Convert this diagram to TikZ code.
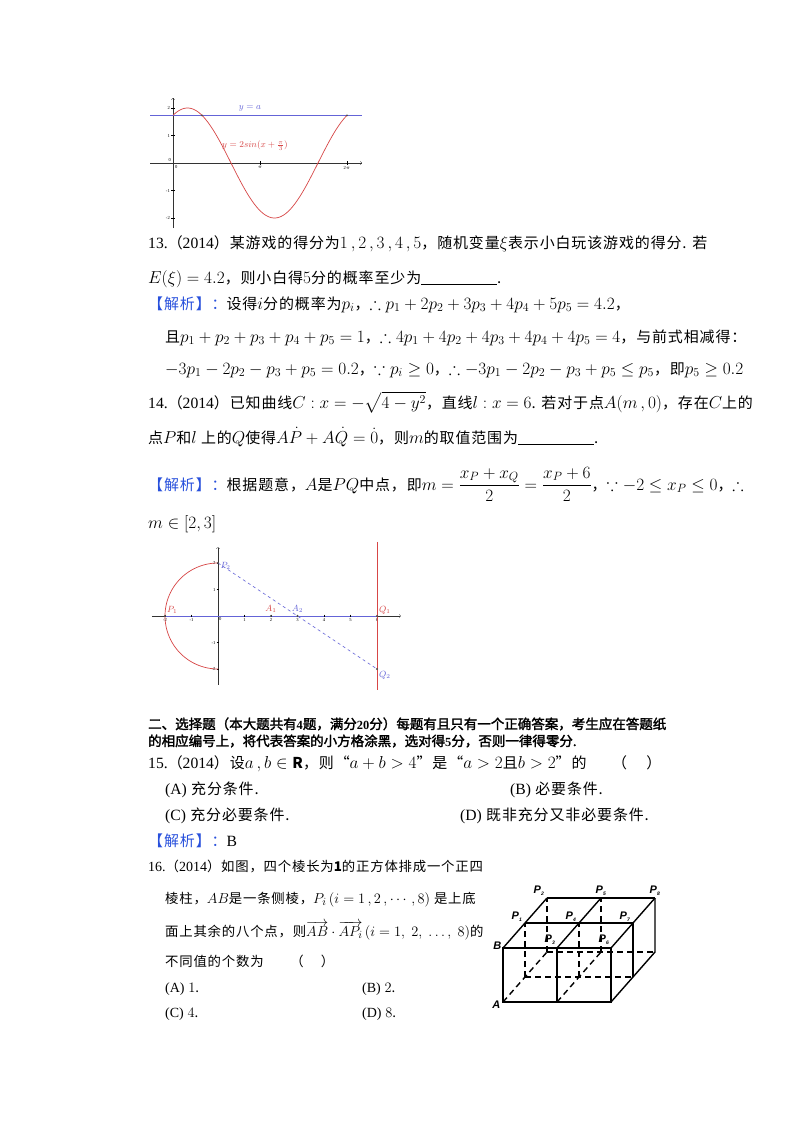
\documentclass[tikz,border=0pt]{standalone}
\usepackage{amsmath,amssymb}
\usepackage{fontspec}
\setmainfont{Noto Sans CJK SC}[Scale=0.88,LetterSpace=6]
\newfontfamily\lt{Liberation Serif}[Scale=0.92]
\newfontfamily\cjb[FakeBold=2]{Noto Sans CJK SC}
\newfontfamily\ps[BoldFont={Liberation Sans Bold},ItalicFont={Liberation Sans Bold Italic}]{Liberation Sans}
\definecolor{jxblue}{RGB}{40,80,220}
\definecolor{cred}{RGB}{215,70,70}
\definecolor{cblue}{RGB}{100,100,215}
\newcommand\jx{\textcolor{jxblue}{【解析】：}}
\newcommand\blank{\rule[-2pt]{76pt}{0.7pt}}
\tikzset{
 t/.style={anchor=base west,inner sep=0pt,font=\fontsize{17}{19}\selectfont},
 ts/.style={anchor=base west,inner sep=0pt,font=\fontsize{15.2}{18}\selectfont},
 tb/.style={anchor=base west,inner sep=0pt,font=\fontsize{13.5}{16}\selectfont\cjb},
 tick/.style={font=\fontsize{5}{6}\selectfont\lt,inner sep=1pt},
 plab/.style={font=\fontsize{9}{10}\selectfont\lt\itshape,inner sep=1pt},
 cl/.style={font=\fontsize{11}{12}\selectfont\ps\itshape,inner sep=0pt},
 dot/.style={circle,fill=black!70,inner sep=0pt,minimum size=2.2pt},
}
\begin{document}
\begin{tikzpicture}[x=1pt,y=-1pt]
\useasboundingbox[fill=white] (0,0) rectangle (800,1132);
% ---------- graph 1
\draw[->,black!80,line width=0.4pt] (150,163) -- (362,163);
\draw[->,black!80,line width=0.4pt] (173,228) -- (173,98);
\foreach \v/\l in {2/2,1/1,-1/-1,-2/-2}{\draw (171,{163-27.5*\v}) -- (175,{163-27.5*\v}); \node[tick,anchor=east] (gy\l) at (171,{163-27.5*\v}) {\l};}
\node[tick,anchor=south east] (g0) at (172,163) {0};
\node[tick,anchor=north west] (gx0) at (174,164) {0};
\draw (260,161) -- (260,165); \node[tick,anchor=north] (gpi) at (260,165) {$\pi$};
\draw (347,161) -- (347,165); \node[tick,anchor=north] (g2pi) at (347,165) {2$\pi$};
\draw[cblue,line width=0.8pt] (150,115.4) -- (362,115.4);
\draw[cred,line width=0.7pt] plot[domain=0:6.2832,samples=120] ({173+\x*87/pi},{163-55*sin(\x r+60)});
\node[dot,minimum size=2pt] (ga) at (202,115.4) {};
\node[dot,minimum size=2pt] (gb) at (347,115.4) {};
\node[plab,text=cblue] (la) at (250,108) {$y=a$};
\node[plab,text=cred] (lc) at (255,146) {$y=2sin(x+\frac{\pi}{3})$};
% ---------- text 13
\node[t] (l1) at (148,248) {{\lt 13.}（{\lt 2014}）某游戏的得分为$1\,,2\,,3\,,4\,,5$，随机变量$\xi$表示小白玩该游戏的得分. 若};
\node[t] (l2) at (148,283) {$E(\xi)=4.2$，则小白得$5$分的概率至少为\blank.};
\node[t] (l3) at (148,309) {\jx 设得$i$分的概率为$p_i$，$\therefore p_1+2p_2+3p_3+4p_4+5p_5=4.2$，};
\node[t] (l4) at (165,342) {且$p_1+p_2+p_3+p_4+p_5=1$，$\therefore 4p_1+4p_2+4p_3+4p_4+4p_5=4$，与前式相减得：};
\node[t] (l5) at (165,374) {$-3p_1-2p_2-p_3+p_5=0.2$，$\because p_i\ge 0$，$\therefore -3p_1-2p_2-p_3+p_5\le p_5$，即$p_5\ge 0.2$};
% ---------- text 14
\node[t] (l6) at (148,408) {{\lt 14.}（{\lt 2014}）已知曲线$C:x=-\sqrt{4-y^2}$，直线$l:x=6$. 若对于点$A(m\,,0)$，存在$C$上的};
\node[t] (l7) at (148,443) {点$P$和$l$ 上的$Q$使得$A\dot P+A\dot Q=\dot 0$，则$m$的取值范围为\blank.};
\node[t] (l8) at (148,490) {\jx 根据题意，$A$是$PQ$中点，即$m=\dfrac{x_P+x_Q}{2}=\dfrac{x_P+6}{2}$，$\because -2\le x_P\le 0$，$\therefore$};
\node[t] (l9) at (148,528) {$m\in[2,3]$};
% ---------- graph 2
\begin{scope}[shift={(218,616)},x=26.5pt,y=26.5pt]
\draw[->,black!80,line width=0.4pt] (-2.5,0) -- (6.9,0);
\draw[->,black!80,line width=0.4pt] (0,-2.6) -- (0,2.6);
\draw[cblue,line width=0.8pt] (-2,0) -- (6,0);
\foreach \i in {-2,-1,1,2,3,4,5,6}{\draw (\i,0.05) -- (\i,-0.05); \node[tick,anchor=north] (tx\i) at (\i,-0.05) {\i};}
\foreach \i in {-2,-1,1,2}{\draw (-0.05,\i) -- (0.05,\i); \node[tick,anchor=east] (ty\i) at (-0.05,\i) {\i};}
\node[tick,anchor=north west] (t0) at (0,0) {0};
\draw[cred,line width=0.7pt] plot[domain=-90:90,samples=80] ({-2*cos(\x)},{2*sin(\x)});
\draw[cred,line width=0.7pt] (6,2.8) -- (6,-2.8);
\draw[cblue,dashed,line width=0.6pt] (0,2) -- (6,-2);
\node[dot] (P1) at (-2,0) {};
\node[dot] (P2) at (0,2) {};
\node[dot] (A1) at (2,0) {};
\node[dot] (A2) at (3,0) {};
\node[dot] (Q1) at (6,0) {};
\node[dot] (Q2) at (6,-2) {};
\node[plab,text=cred,anchor=south west] at (P1.north east) {$P_1$};
\node[plab,text=cblue,anchor=west] at ([yshift=-3pt]P2.east) {$P_2$};
\node[plab,text=cred,anchor=south] at ([yshift=1pt]A1.north) {$A_1$};
\node[plab,text=cblue,anchor=south] at ([yshift=1pt]A2.north) {$A_2$};
\node[plab,text=cred,anchor=south west] at (Q1.north east) {$Q_1$};
\node[plab,text=cblue,anchor=north west] at (Q2.south east) {$Q_2$};
\end{scope}
% ---------- section 2
\node[tb] (s1) at (148,729) {二、选择题（本大题共有{\lt\bfseries 4}题，满分{\lt\bfseries 20}分）每题有且只有一个正确答案，考生应在答题纸};
\node[tb] (s2) at (148,746) {的相应编号上，将代表答案的小方格涂黑，选对得{\lt\bfseries 5}分，否则一律得零分.};
\node[t] (l15) at (148,768) {{\lt 15.}（{\lt 2014}）设$a\,,b\in\mathbf{R}$，则“$a+b>4$”是“$a>2$且$b>2$”的};
\node[t] (l15p) at (612,768) {（\quad\ ）};
\node[t] (oA) at (165,794) {{\lt (A)} 充分条件.};
\node[t] (oB) at (510,794) {{\lt (B)} 必要条件.};
\node[t] (oC) at (165,820) {{\lt (C)} 充分必要条件.};
\node[t] (oD) at (460,820) {{\lt (D)} 既非充分又非必要条件.};
\node[t] (j15) at (148,846) {\jx{\lt B}};
% ---------- 16
\node[ts] (m1) at (148,871) {{\lt 16.}（{\lt 2014}）如图，四个棱长为$\mathbf{1}$的正方体排成一个正四};
\node[ts] (m2) at (165,903) {棱柱，$AB$是一条侧棱，$P_i\,(i=1\,,2\,,\cdots,8)$ 是上底};
\node[ts] (m3) at (165,936) {面上其余的八个点，则$\overrightarrow{AB}\cdot\overrightarrow{AP_i}\,(i=1,\ 2,\ \ldots,\ 8)$的};
\node[ts] (m4) at (165,966) {不同值的个数为\qquad（\quad\ ）};
\node[ts] (q16a) at (165,992) {{\lt (A)} $1$.};
\node[ts] (q16b) at (362,992) {{\lt (B)} $2$.};
\node[ts] (q16c) at (165,1017) {{\lt (C)} $4$.};
\node[ts] (q16d) at (362,1017) {{\lt (D)} $8$.};
% ---------- cube
\begin{scope}[shift={(503,1002)},x={(54pt,0pt)},y={(0pt,54pt)},z={(22pt,25pt)},line width=1.4pt]
\draw (0,0,0) rectangle (2,1,0);
\draw (1,0,0) -- (1,1,0);
\foreach \z in {0,1,2}{\draw (0,1,\z) -- (2,1,\z);}
\foreach \x in {0,1,2}{\draw (\x,1,0) -- (\x,1,2);}
\draw (2,0,0) -- (2,0,2) -- (2,1,2);
\draw (2,0,1) -- (2,1,1);
\begin{scope}[dash pattern=on 6pt off 4pt]
\foreach \z in {1,2}{\draw (0,0,\z) -- (0,1,\z); \draw (1,0,\z) -- (1,1,\z); \draw (0,0,\z) -- (2,0,\z);}
\foreach \x in {0,1}{\draw (\x,0,0) -- (\x,0,2);}
\end{scope}
\coordinate (cA) at (0,0,0);
\coordinate (cB) at (0,1,0);
\node[cl,anchor=east] (nA) at ([xshift=-2pt,yshift=-3pt]cA) {A};
\node[cl,anchor=east] (nB) at ([xshift=-1pt,yshift=2pt]cB) {B};
\node[cl,anchor=south east] at ([xshift=-2pt,yshift=1pt]0,1,1) {P\textsubscript{\tiny 1}};
\node[cl,anchor=south east] at ([xshift=-2pt,yshift=2pt]0,1,2) {P\textsubscript{\tiny 2}};
\node[cl,anchor=south east] at ([xshift=-1pt,yshift=3pt]1,1,0) {P\textsubscript{\tiny 3}};
\node[cl,anchor=south east] at ([xshift=-2pt,yshift=1pt]1,1,1) {P\textsubscript{\tiny 4}};
\node[cl,anchor=south] at ([yshift=2pt]1,1,2) {P\textsubscript{\tiny 5}};
\node[cl,anchor=south east] at ([xshift=-1pt,yshift=3pt]2,1,0) {P\textsubscript{\tiny 6}};
\node[cl,anchor=south east] at ([xshift=-2pt,yshift=1pt]2,1,1) {P\textsubscript{\tiny 7}};
\node[cl,anchor=south] at ([yshift=2pt]2,1,2) {P\textsubscript{\tiny 8}};
\end{scope}
\end{tikzpicture}
\end{document}
